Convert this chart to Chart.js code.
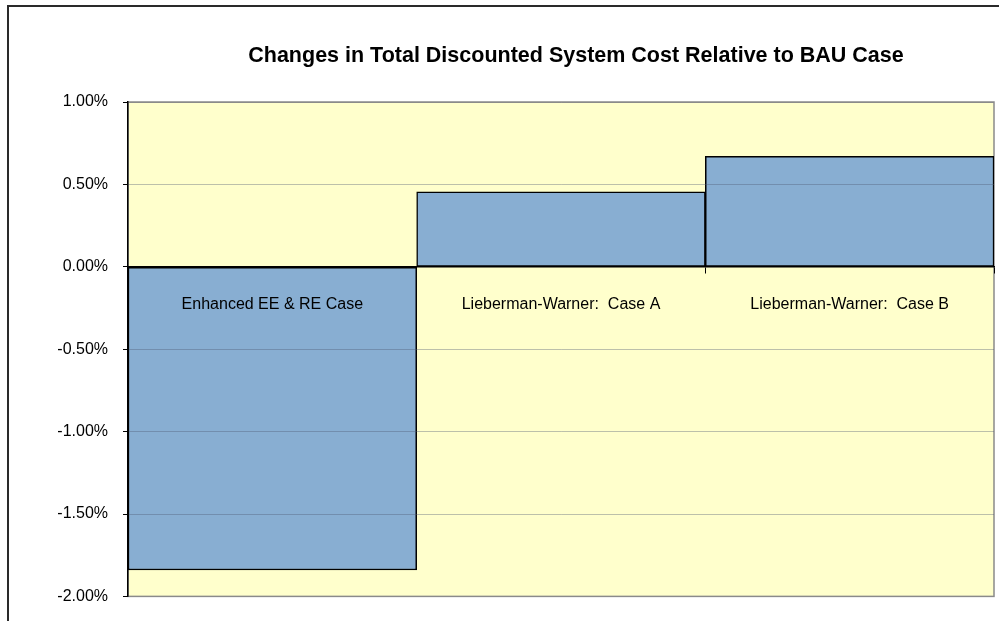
<!DOCTYPE html>
<html>
<head>
<meta charset="utf-8">
<script src="https://cdn.jsdelivr.net/npm/chart.js@4.4.0/dist/chart.umd.min.js"></script>
<style>
  html, body { margin: 0; padding: 0; background: #fff; }
  #wrap { width: 999px; height: 621px; }
</style>
</head>
<body>
<div id="wrap"><canvas id="costChart" width="999" height="621"></canvas></div>
<script>
var categories = ["Enhanced EE & RE Case", "Lieberman-Warner:  Case A", "Lieberman-Warner:  Case B"]
var costChange = [-0.0184, 0.00455, 0.0067]
var yTicks = [0.01, 0.005, 0, -0.005, -0.01, -0.015, -0.02]
var chartTitle = "Changes in Total Discounted System Cost Relative to BAU Case"

var fontFamily = '"Liberation Sans", Arial, sans-serif'

function near(a, b) {
  return Math.abs(a - b) < 1e-9
}

// fundo amarelo + moldura da area do grafico + borda externa + titulo
var framePlugin = {
  id: "frame",
  beforeDraw: function (chart) {
    var ctx = chart.ctx
    var a = chart.chartArea
    ctx.save()
    ctx.fillStyle = "#FFFFCC"
    ctx.fillRect(a.left, a.top, a.right - a.left, a.bottom - a.top)
    ctx.strokeStyle = "#8a8a8a"
    ctx.lineWidth = 1.5
    ctx.strokeRect(a.left, a.top, a.right - a.left, a.bottom - a.top)

    ctx.strokeStyle = "#2a2a2a"
    ctx.lineWidth = 2
    ctx.beginPath()
    ctx.moveTo(8, 621)
    ctx.lineTo(8, 6)
    ctx.lineTo(999, 6)
    ctx.stroke()

    ctx.fillStyle = "#000"
    ctx.font = "bold 21.5px " + fontFamily
    ctx.textAlign = "center"
    ctx.textBaseline = "alphabetic"
    ctx.fillText(chartTitle, 576, 62)
    ctx.restore()
  },
}

var ctx = document.getElementById("costChart").getContext("2d")
var myChart = new Chart(ctx, {
  type: "bar",
  data: {
    labels: categories,
    datasets: [
      {
        data: costChange,
        backgroundColor: "#88AED2",
        borderColor: "#000",
        borderWidth: 1.5,
        borderSkipped: false,
        barPercentage: 1,
        categoryPercentage: 1,
      },
    ],
  },
  options: {
    responsive: false,
    animation: false,
    layout: {
      padding: { left: 0, right: 5, top: 102, bottom: 21 },
    },
    plugins: {
      legend: { display: false },
      title: { display: false },
      tooltip: { enabled: false },
    },
    scales: {
      x: {
        position: { y: 0 },
        grid: {
          z: 1,
          drawOnChartArea: false,
          drawTicks: true,
          tickLength: 6,
          color: "#000",
        },
        border: { color: "#000", width: 1.5, z: 2 },
        ticks: {
          z: 2,
          color: "#000",
          padding: 22,
          font: { family: fontFamily, size: 16 },
        },
      },
      y: {
        min: -0.02,
        max: 0.01,
        afterFit: function (scale) {
          scale.width = 128
        },
        afterBuildTicks: function (scale) {
          scale.ticks = yTicks.map(function (v) {
            return { value: v }
          })
        },
        grid: {
          z: 1,
          tickLength: 5,
          tickColor: "#000",
          lineWidth: 1,
          color: function (c) {
            var v = c.tick ? c.tick.value : 0
            if (near(v, 0.01) || near(v, -0.02)) return "#8a8a8a"
            if (near(v, 0)) return "#000"
            return "rgba(80, 90, 115, 0.38)"
          },
        },
        border: { color: "#000", width: 1.5, z: 2 },
        ticks: {
          z: 2,
          color: "#000",
          padding: 15,
          font: { family: fontFamily, size: 16 },
          callback: function (v) {
            return (v * 100).toFixed(2) + "%"
          },
        },
      },
    },
  },
  plugins: [framePlugin],
})
</script>
</body>
</html>
